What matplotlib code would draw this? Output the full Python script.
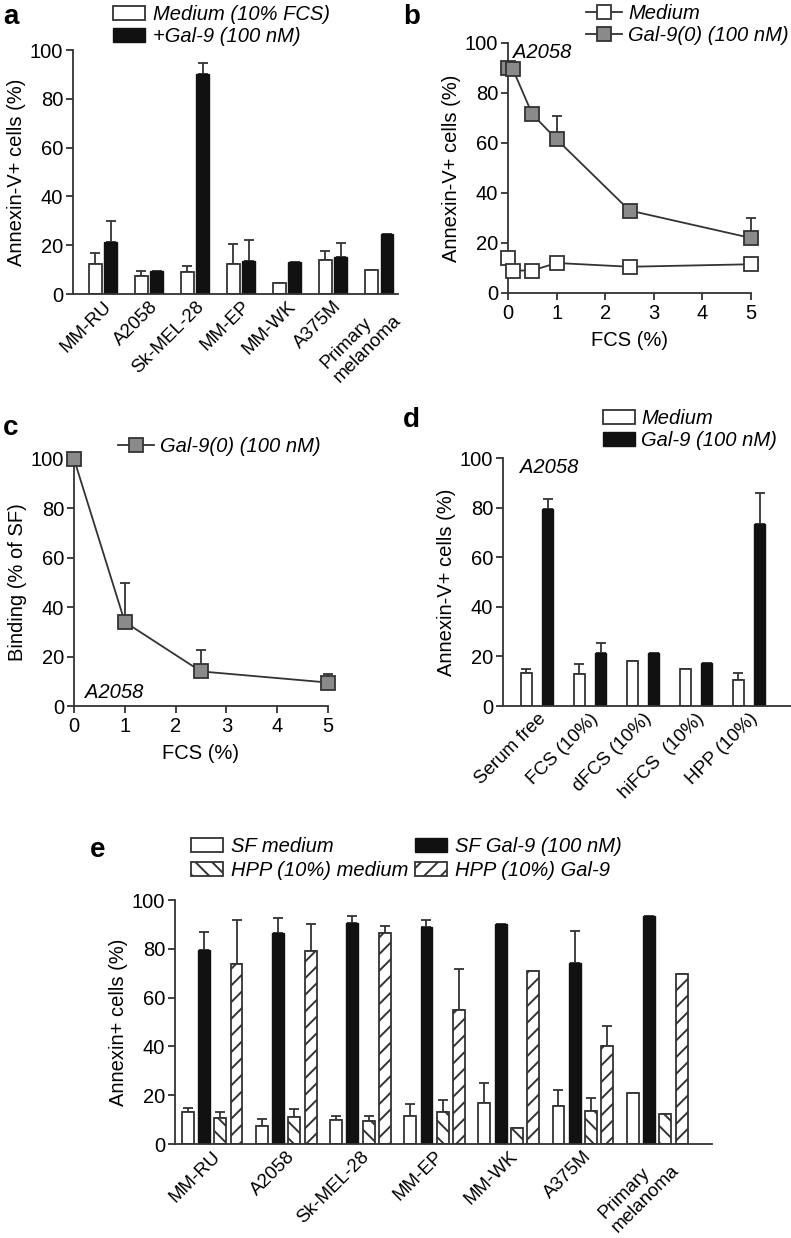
import numpy as np
import matplotlib
matplotlib.use("Agg")
import matplotlib.pyplot as plt

plt.rcParams['font.family'] = ['Liberation Sans', 'DejaVu Sans']
plt.rcParams['hatch.linewidth'] = 1.4
plt.rcParams['axes.linewidth'] = 1.3

nan = np.nan
EDGE = '#333333'
DARK = '#111111'
GREY = '#8a8a8a'
FS = 14.5

# panel a
cells_a = ['MM-RU', 'A2058', 'Sk-MEL-28', 'MM-EP', 'MM-WK', 'A375M', 'Primary\nmelanoma']
medium_a = [12.5, 7.5, 9, 12.5, 4.5, 14, 10]
medium_a_err = [4.5, 2, 2.5, 8, nan, 3.5, nan]
gal_a = [21.5, 9.5, 90, 13.5, 13, 15, 24.5]
gal_a_err = [8.5, nan, 4.5, 8.5, nan, 6, nan]

# panel b
fcs_b = [0, 0.1, 0.5, 1, 2.5, 5]
medium_b = [14, 9, 9, 12, 10.5, 11.5]
gal_b = [90, 89.5, 71.5, 61.5, 33, 22]
gal_b_err = [nan, nan, nan, 9.5, nan, 8]

# panel c
fcs_c = [0, 1, 2.5, 5]
binding_c = [100, 34, 14, 9.5]
binding_c_err = [nan, 16, 8.5, 3.5]

# panel d
conds_d = ['Serum free', 'FCS (10%)', 'dFCS (10%)', 'hiFCS  (10%)', 'HPP (10%)']
medium_d = [13.5, 13, 18, 15, 10.5]
medium_d_err = [1.5, 4, nan, nan, 3]
gal_d = [79.5, 21.5, 21.5, 17.5, 73.5]
gal_d_err = [4, 4, nan, nan, 12.5]

# panel e
cells_e = cells_a
sf_med = [13, 7.5, 10, 11.5, 17, 15.5, 21]
sf_med_err = [1.8, 2.7, 1.5, 4.8, 7.8, 6.8, nan]
sf_gal = [79.5, 86.3, 90.7, 88.8, 90, 74, 93.6]
sf_gal_err = [7.5, 6.2, 2.7, 3, nan, 13.4, nan]
hpp_med = [10.5, 11, 9.5, 13, 6.5, 13.5, 12.3]
hpp_med_err = [2.7, 3.3, 1.8, 5, nan, 5.2, nan]
hpp_gal = [73.8, 79.2, 86.6, 54.9, 71, 40, 69.7]
hpp_gal_err = [18, 11, 2.7, 17, nan, 8.5, nan]

W, H = 791, 1238
fig = plt.figure(figsize=(W / 100, H / 100), dpi=100)


def px_axes(l, r, t, b):
    return fig.add_axes([l / W, 1 - b / H, (r - l) / W, (b - t) / H])


def style(ax, bar=True):
    for s in ['top', 'right']:
        ax.spines[s].set_visible(False)
    for s in ['left', 'bottom']:
        ax.spines[s].set_color(EDGE)
    ax.set_ylim(0, 100)
    ax.set_yticks([0, 20, 40, 60, 80, 100])
    ax.tick_params(axis='y', length=5, width=1.3, color=EDGE, labelsize=FS, pad=2)
    if bar:
        ax.tick_params(axis='x', length=0, labelsize=FS - 1, pad=3)
    else:
        ax.tick_params(axis='x', length=5, width=1.3, color=EDGE, labelsize=FS, pad=3)


def err(ax, x, y, e):
    y = np.asarray(y, float)
    e = np.asarray(e, float)
    ax.errorbar(x, y, yerr=[np.zeros_like(e), e], fmt='none', ecolor=EDGE,
                elinewidth=1.3, capsize=3.5, capthick=1.3, zorder=1, clip_on=False)


def rot_labels(ax, labels):
    ax.set_xticklabels(labels, rotation=45, ha='right', va='top',
                       rotation_mode='anchor', multialignment='left')


def letter(x, y, s):
    fig.text(x / W, 1 - y / H, s, fontsize=20, fontweight='bold', va='center', ha='left')


leg_font = {'style': 'italic', 'size': FS}

# ---- a
ax = px_axes(73, 398, 50, 294)
style(ax)
x = np.arange(len(cells_a))
w = 0.28
ax.bar(x - 0.17, medium_a, w, color='white', edgecolor=EDGE, linewidth=1.3,
       label='Medium (10% FCS)', zorder=2)
ax.bar(x + 0.17, gal_a, w, color=DARK, edgecolor=DARK, linewidth=1.0,
       label='+Gal-9 (100 nM)', zorder=2)
err(ax, x - 0.17, medium_a, medium_a_err)
err(ax, x + 0.17, gal_a, gal_a_err)
ax.set_xlim(-0.65, 6.41)
ax.set_xticks(x)
rot_labels(ax, cells_a)
ax.set_ylabel('Annexin-V+ cells (%)', fontsize=FS, labelpad=3)
ax.legend(loc='upper left', bbox_to_anchor=(113 / W, 1 - 5 / H), bbox_transform=fig.transFigure,
          frameon=False, prop=leg_font, handlelength=1.6,
          handleheight=0.7, handletextpad=0.4, labelspacing=0.15, borderpad=0, borderaxespad=0)
letter(3, 17, 'a')

# ---- b
ax = px_axes(508, 751, 43, 293)
style(ax, bar=False)
ax.plot(fcs_b, gal_b, '-s', color=EDGE, lw=1.3, ms=10, mfc=GREY, mec=EDGE, mew=1.3,
        label='Gal-9(0) (100 nM)', zorder=3, clip_on=False)
ax.plot(fcs_b, medium_b, '-s', color=EDGE, lw=1.3, ms=10, mfc='white', mec=EDGE, mew=1.3,
        label='Medium', zorder=3, clip_on=False)
err(ax, fcs_b, gal_b, gal_b_err)
ax.set_xlim(0, 5)
ax.set_xticks([0, 1, 2, 3, 4, 5])
ax.set_xlabel('FCS (%)', fontsize=FS, labelpad=6)
ax.set_ylabel('Annexin-V+ cells (%)', fontsize=FS, labelpad=3)
ax.text(0.1, 96, 'A2058', fontsize=FS, style='italic', va='center', ha='left')
hs, ls = ax.get_legend_handles_labels()
ax.legend(hs[::-1], ls[::-1], loc='upper left', bbox_to_anchor=(586 / W, 1 - 4 / H),
          bbox_transform=fig.transFigure, frameon=False, prop=leg_font,
          handlelength=1.8, handletextpad=0.3, labelspacing=0.15, borderpad=0, borderaxespad=0)
letter(403, 17, 'b')

# ---- c
ax = px_axes(74, 328, 459, 706)
style(ax, bar=False)
ax.plot(fcs_c, binding_c, '-s', color=EDGE, lw=1.3, ms=10, mfc=GREY, mec=EDGE, mew=1.3,
        label='Gal-9(0) (100 nM)', zorder=3, clip_on=False)
err(ax, fcs_c, binding_c, binding_c_err)
ax.set_xlim(0, 5)
ax.set_xticks([0, 1, 2, 3, 4, 5])
ax.set_xlabel('FCS (%)', fontsize=FS, labelpad=6)
ax.set_ylabel('Binding (% of SF)', fontsize=FS, labelpad=3)
ax.text(0.22, 5.5, 'A2058', fontsize=FS, style='italic', va='center', ha='left')
ax.legend(loc='upper left', bbox_to_anchor=(118 / W, 1 - 437 / H), bbox_transform=fig.transFigure,
          frameon=False, prop=leg_font,
          handlelength=1.8, handletextpad=0.3, borderpad=0, borderaxespad=0)
letter(3, 428, 'c')

# ---- d
ax = px_axes(503, 791, 458, 706)
style(ax)
x = np.arange(len(conds_d))
w = 0.21
ax.bar(x - 0.2, medium_d, w, color='white', edgecolor=EDGE, linewidth=1.3, label='Medium', zorder=2)
ax.bar(x + 0.2, gal_d, w, color=DARK, edgecolor=DARK, linewidth=1.0, label='Gal-9 (100 nM)', zorder=2)
err(ax, x - 0.2, medium_d, medium_d_err)
err(ax, x + 0.2, gal_d, gal_d_err)
ax.set_xlim(-0.64, 4.79)
ax.set_xticks(x)
rot_labels(ax, conds_d)
ax.set_ylabel('Annexin-V+ cells (%)', fontsize=FS, labelpad=3)
ax.text(-0.32, 96, 'A2058', fontsize=FS, style='italic', va='center', ha='left')
ax.legend(loc='upper left', bbox_to_anchor=(603 / W, 1 - 409 / H), bbox_transform=fig.transFigure,
          frameon=False, prop=leg_font, handlelength=1.6,
          handleheight=0.7, handletextpad=0.3, labelspacing=0.15, borderpad=0, borderaxespad=0)
letter(403, 420, 'd')

# ---- e
ax = px_axes(175, 712, 900, 1144)
style(ax)
x = np.arange(len(cells_e))
w = 0.16
off = [-0.33, -0.11, 0.11, 0.33]
b1 = ax.bar(x + off[0], sf_med, w, color='white', edgecolor=EDGE, linewidth=1.3, zorder=2)
b2 = ax.bar(x + off[1], sf_gal, w, color=DARK, edgecolor=DARK, linewidth=1.0, zorder=2)
b3 = ax.bar(x + off[2], hpp_med, w, color='white', edgecolor=EDGE, linewidth=1.3, hatch='\\\\', zorder=2)
b4 = ax.bar(x + off[3], hpp_gal, w, color='white', edgecolor=EDGE, linewidth=1.3, hatch='//', zorder=2)
err(ax, x + off[0], sf_med, sf_med_err)
err(ax, x + off[1], sf_gal, sf_gal_err)
err(ax, x + off[2], hpp_med, hpp_med_err)
err(ax, x + off[3], hpp_gal, hpp_gal_err)
ax.set_xlim(-0.5, 6.74)
ax.set_xticks(x)
rot_labels(ax, cells_e)
ax.set_ylabel('Annexin+ cells (%)', fontsize=FS, labelpad=3)
ax.legend([b1, b3, b2, b4], ['SF medium', 'HPP (10%) medium', 'SF Gal-9 (100 nM)', 'HPP (10%) Gal-9'],
          ncol=2, loc='upper left', bbox_to_anchor=(191 / W, 1 - 837 / H), bbox_transform=fig.transFigure,
          frameon=False, prop=leg_font, handlelength=1.6,
          handleheight=0.7, handletextpad=0.4, labelspacing=0.25, columnspacing=0.3,
          borderpad=0, borderaxespad=0)
letter(90, 850, 'e')

fig.savefig('out.png', dpi=100)
